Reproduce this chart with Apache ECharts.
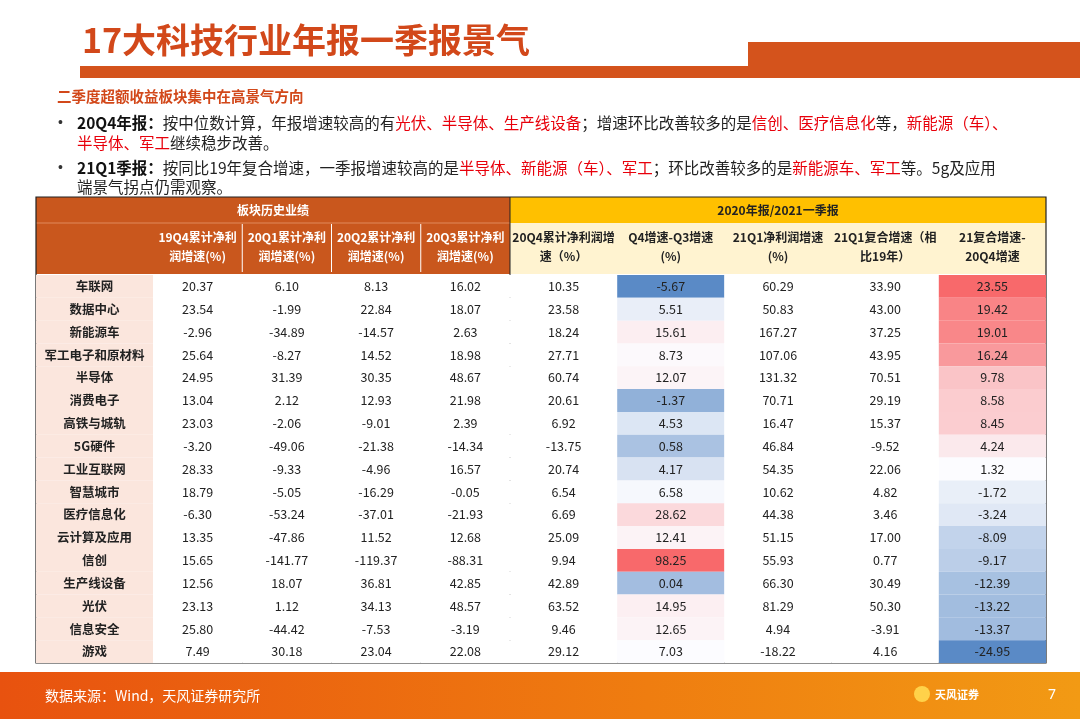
<!DOCTYPE html>
<html><head><meta charset="utf-8">
<script src="https://cdn.jsdelivr.net/npm/echarts@6/dist/echarts.min.js"></script>
<style>html,body{margin:0;padding:0;background:#fff}#c{width:1080px;height:719px}</style>
</head><body><div id="c"></div>
<script>
// 板块
const sectors = ['车联网','数据中心','新能源车','军工电子和原材料','半导体','消费电子','高铁与城轨','5G硬件','工业互联网','智慧城市','医疗信息化','云计算及应用','信创','生产线设备','光伏','信息安全','游戏'];
const histHeaders = ['19Q4累计净利\n润增速(%)','20Q1累计净利\n润增速(%)','20Q2累计净利\n润增速(%)','20Q3累计净利\n润增速(%)'];
const recentHeaders = ['20Q4累计净利润增\n速（%）','Q4增速-Q3增速\n(%)','21Q1净利润增速\n(%)','21Q1复合增速（相\n比19年）','21复合增速-\n20Q4增速'];
const g19Q4 = [20.37,23.54,-2.96,25.64,24.95,13.04,23.03,-3.20,28.33,18.79,-6.30,13.35,15.65,12.56,23.13,25.80,7.49];
const g20Q1 = [6.10,-1.99,-34.89,-8.27,31.39,2.12,-2.06,-49.06,-9.33,-5.05,-53.24,-47.86,-141.77,18.07,1.12,-44.42,30.18];
const g20Q2 = [8.13,22.84,-14.57,14.52,30.35,12.93,-9.01,-21.38,-4.96,-16.29,-37.01,11.52,-119.37,36.81,34.13,-7.53,23.04];
const g20Q3 = [16.02,18.07,2.63,18.98,48.67,21.98,2.39,-14.34,16.57,-0.05,-21.93,12.68,-88.31,42.85,48.57,-3.19,22.08];
const g20Q4 = [10.35,23.58,18.24,27.71,60.74,20.61,6.92,-13.75,20.74,6.54,6.69,25.09,9.94,42.89,63.52,9.46,29.12];
const q4MinusQ3 = [-5.67,5.51,15.61,8.73,12.07,-1.37,4.53,0.58,4.17,6.58,28.62,12.41,98.25,0.04,14.95,12.65,7.03];
const g21Q1 = [60.29,50.83,167.27,107.06,131.32,70.71,16.47,46.84,54.35,10.62,44.38,51.15,55.93,66.30,81.29,4.94,-18.22];
const g21Q1Cagr = [33.90,43.00,37.25,43.95,70.51,29.19,15.37,-9.52,22.06,4.82,3.46,17.00,0.77,30.49,50.30,-3.91,4.16];
const cagrMinus20Q4 = [23.55,19.42,19.01,16.24,9.78,8.58,8.45,4.24,1.32,-1.72,-3.24,-8.09,-9.17,-12.39,-13.22,-13.37,-24.95];

const histCols = [g19Q4,g20Q1,g20Q2,g20Q3];
const recentCols = [g20Q4,q4MinusQ3,g21Q1,g21Q1Cagr,cagrMinus20Q4];
const colored = {1:true,4:true};

function mix(a,b,t){
  const p=x=>[parseInt(x.slice(1,3),16),parseInt(x.slice(3,5),16),parseInt(x.slice(5,7),16)];
  const A=p(a),B=p(b);
  return 'rgb('+A.map((v,i)=>Math.round(v+(B[i]-v)*t)).join(',')+')';
}
function scaleColor(arr,v){
  const s=arr.slice().sort((a,b)=>a-b), mn=s[0], mx=s[s.length-1], md=s[Math.floor(s.length/2)];
  if(v>=md) return mix('#fcfcff','#f8696b',(v-md)/(mx-md||1));
  return mix('#fcfcff','#5a8ac6',(md-v)/(md-mn||1));
}

const ROWS_TOP=275, ROWS_H=388;
const font='12.5px "Noto Sans CJK SC", sans-serif';

function cellSeries(gi, cols, colorFn, textFn, fontW){
  const data=[];
  cols.forEach((col,ci)=>col.forEach((v,ri)=>data.push([ci,ri,v])));
  return {
    type:'custom', xAxisIndex:gi, yAxisIndex:gi, data,
    renderItem(params, api){
      const ci=api.value(0), ri=api.value(1), v=api.value(2);
      const c=api.coord([ci,ri]), s=api.size([1,1]);
      return {type:'group',children:[
        {type:'rect',shape:{x:c[0]-s[0]/2,y:c[1]-s[1]/2,width:s[0],height:s[1]},style:{fill:colorFn(ci,ri,v)}},
        {type:'text',style:{text:textFn(ci,ri,v),x:c[0],y:c[1],align:'center',verticalAlign:'middle',
          font:(fontW||'normal')+' '+font,fill:'#222'}}
      ]};
    }
  };
}

const chart=echarts.init(document.getElementById('c'));
const mkCat=(n)=>Array.from({length:n},(_,i)=>String(i));
const grids=[
  {left:36,width:117,top:ROWS_TOP,height:ROWS_H},
  {left:153,width:357,top:ROWS_TOP,height:ROWS_H},
  {left:510,width:536,top:ROWS_TOP,height:ROWS_H}
];
const xAxes=[1,4,5].map((n,i)=>({type:'category',gridIndex:i,data:mkCat(n),show:false}));
const yAxes=[0,1,2].map(i=>({type:'category',gridIndex:i,data:sectors,inverse:true,show:false}));

const headerText=[];
histHeaders.forEach((h,i)=>headerText.push({type:'text',style:{text:h,x:153+357/8*(2*i+1),y:247,align:'center',verticalAlign:'middle',font:'bold 12px "Noto Sans CJK SC"',fill:'#fff',lineHeight:19}}));
recentHeaders.forEach((h,i)=>headerText.push({type:'text',style:{text:h,x:510+536/10*(2*i+1),y:247,align:'center',verticalAlign:'middle',font:'bold 12px "Noto Sans CJK SC"',fill:'#222',lineHeight:19}}));
const sepLines=[1,2,3].map(i=>({type:'line',shape:{x1:153+357/4*i,y1:224,x2:153+357/4*i,y2:272},style:{stroke:'#fff',lineWidth:1}}));

const red='#e8000b';
const F='15.5px "Noto Sans CJK SC"';
const sty={n:{fill:'#222',font:F},b:{fill:'#111',font:'bold '+F},r:{fill:red,font:F}};

chart.setOption({
  animation:false,
  grid:grids, xAxis:xAxes, yAxis:yAxes,
  series:[
    cellSeries(0,[sectors.map(()=>0)],()=>'#fbe6dd',(ci,ri)=>sectors[ri],'bold'),
    cellSeries(1,histCols,()=>'#ffffff',(ci,ri,v)=>v.toFixed(2)),
    cellSeries(2,recentCols,(ci,ri,v)=>colored[ci]?scaleColor(recentCols[ci],v):'#ffffff',(ci,ri,v)=>v.toFixed(2))
  ],
  graphic:[
    {type:'text',style:{text:'17大科技行业年报一季报景气',x:82,y:40,verticalAlign:'middle',font:'bold 34px "Noto Sans CJK SC"',fill:'#d2481a'}},
    {type:'rect',shape:{x:748,y:42,width:332,height:25},style:{fill:'#d4531c'}},
    {type:'rect',shape:{x:80,y:66,width:1000,height:12},style:{fill:'#d4531c'}},
    {type:'text',style:{text:'二季度超额收益板块集中在高景气方向',x:57,y:96,verticalAlign:'middle',font:'bold 14.5px "Noto Sans CJK SC"',fill:'#d2481a'}},
    {type:'text',style:{text:'•',x:58,y:123,verticalAlign:'middle',font:'14px sans-serif',fill:'#333'}},
    {type:'text',style:{text:'•',x:58,y:168,verticalAlign:'middle',font:'14px sans-serif',fill:'#333'}},
    {type:'text',style:{x:77,y:123,verticalAlign:'middle',rich:sty,
      text:'{b|20Q4年报：}{n|按中位数计算，年报增速较高的有}{r|光伏、半导体、生产线设备}{n|；增速环比改善较多的是}{r|信创、医疗信息化}{n|等，}{r|新能源（车）、}'}},
    {type:'text',style:{x:77,y:143,verticalAlign:'middle',rich:sty,text:'{r|半导体、军工}{n|继续稳步改善。}'}},
    {type:'text',style:{x:77,y:168,verticalAlign:'middle',rich:sty,
      text:'{b|21Q1季报：}{n|按同比19年复合增速，一季报增速较高的是}{r|半导体、新能源（车）、军工}{n|；环比改善较多的是}{r|新能源车、军工}{n|等。5g及应用}'}},
    {type:'text',style:{x:77,y:187,verticalAlign:'middle',rich:sty,text:'{n|端景气拐点仍需观察。}'}},
    {type:'rect',shape:{x:36,y:197,width:474,height:77},style:{fill:'#c9571d'}},
    {type:'rect',shape:{x:510,y:197,width:536,height:26},style:{fill:'#ffc000'}},
    {type:'rect',shape:{x:510,y:223,width:536,height:51},style:{fill:'#fff3d0'}},
    {type:'line',shape:{x1:36,y1:223,x2:510,y2:223},style:{stroke:'#e08a5c',lineWidth:1}},
    ...sepLines,
    {type:'text',style:{text:'板块历史业绩',x:273,y:210,align:'center',verticalAlign:'middle',font:'bold 12px "Noto Sans CJK SC"',fill:'#fff'}},
    {type:'text',style:{text:'2020年报/2021一季报',x:778,y:210,align:'center',verticalAlign:'middle',font:'bold 12px "Noto Sans CJK SC"',fill:'#222'}},
    ...headerText,
    {type:'line',shape:{x1:510,y1:197,x2:510,y2:663},style:{stroke:'#222',lineWidth:1}},
    {type:'rect',shape:{x:36,y:197,width:1010,height:466},style:{fill:'none',stroke:'#222',lineWidth:1.2}},
    {type:'rect',shape:{x:0,y:672,width:1080,height:47},style:{fill:new echarts.graphic.LinearGradient(0,0,1,0,[{offset:0,color:'#e8520f'},{offset:0.6,color:'#ef7d10'},{offset:1,color:'#f29a14'}])}},
    {type:'text',style:{text:'数据来源：Wind，天风证券研究所',x:45,y:696,verticalAlign:'middle',font:'14px "Noto Sans CJK SC"',fill:'#fff'}},
    {type:'text',style:{text:'天风证券',x:935,y:695,verticalAlign:'middle',font:'bold 11px "Noto Sans CJK SC"',fill:'#fff'}},
    {type:'circle',shape:{cx:922,cy:694,r:8},style:{fill:'#ffd24a'}},
    {type:'text',style:{text:'7',x:1048,y:695,verticalAlign:'middle',font:'14px "Noto Sans"',fill:'#fff'}}
  ]
});
</script></body></html>
